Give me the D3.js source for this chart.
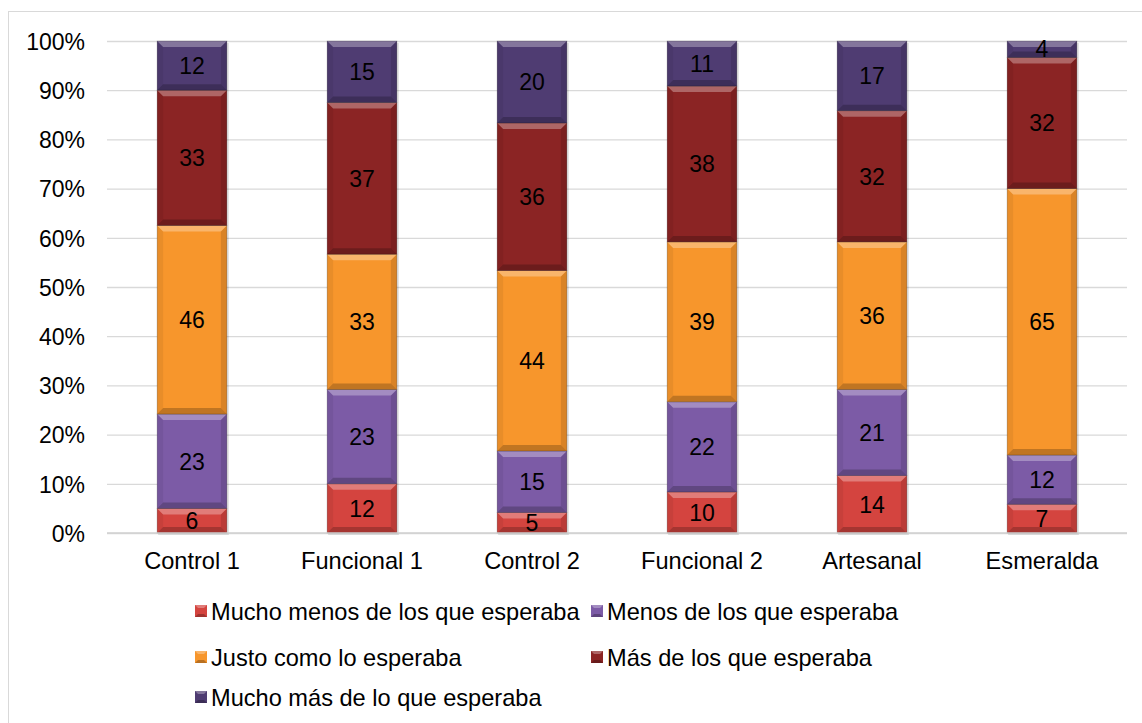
<!DOCTYPE html>
<html>
<head>
<meta charset="utf-8">
<script src="https://cdn.jsdelivr.net/npm/d3@7"></script>
<style>
  body { margin: 0; background: #fff; }
  text { font-family: "Liberation Sans", Arial, sans-serif; fill: #000; }
</style>
</head>
<body>
<div id="drawingArea"></div>
<script>
// data
var categories = ["Control 1", "Funcional 1", "Control 2", "Funcional 2", "Artesanal", "Esmeralda"];
var seriesNames = ["Mucho menos de los que esperaba", "Menos de los que esperaba",
                   "Justo como lo esperaba", "Más de los que esperaba", "Mucho más de lo que esperaba"];
var muchoMenos = [6, 12, 5, 10, 14, 7];
var menos      = [23, 23, 15, 22, 21, 12];
var justo      = [46, 33, 44, 39, 36, 65];
var mas        = [33, 37, 36, 38, 32, 32];
var muchoMas   = [12, 15, 20, 11, 17, 4];
var yTicks = [0, 0.1, 0.2, 0.3, 0.4, 0.5, 0.6, 0.7, 0.8, 0.9, 1];
var colors = ["#d4443f", "#7c5ba6", "#f7962c", "#8b2424", "#4f3c72"];

var seriesValues = [muchoMenos, menos, justo, mas, muchoMas];
var rows = categories.map(function(c, i) {
    var r = {cat: c};
    seriesNames.forEach(function(s, j) { r[s] = seriesValues[j][i]; });
    return r;
});

var W = 1142, H = 723;
var fs = "23px", fsBig = "23.6px";
var margin = {top: 41, left: 107};
var width = 1127 - margin.left, height = 533 - margin.top;

var svg = d3.select("#drawingArea").append("svg")
    .attr("width", W).attr("height", H);

// chart border
svg.append("rect")
    .attr("x", 8.5).attr("y", 11.5).attr("width", 1140).attr("height", 720)
    .attr("fill", "none").attr("stroke", "#d9d9d9").attr("stroke-width", 1);

var g = svg.append("g").attr("transform", "translate(" + margin.left + "," + margin.top + ")");

var x = d3.scaleBand().domain(categories).range([0, width]).paddingInner(0.59).paddingOuter(0.295);
var y = d3.scaleLinear().domain([0, 1]).range([height, 0]);

// gridlines
g.append("g")
    .call(d3.axisLeft(y).tickValues(yTicks).tickSize(-width).tickFormat(""))
    .call(function(a) {
        a.select(".domain").remove();
        a.selectAll("line").attr("stroke", "#d9d9d9").attr("stroke-width", 1.3);
    });

// y labels
g.append("g")
    .call(d3.axisLeft(y).tickValues(yTicks).tickSize(0).tickPadding(22).tickFormat(d3.format(".0%")))
    .call(function(a) {
        a.select(".domain").remove();
        a.selectAll("text").style("font-size", fs).attr("dy", "0.36em");
    });

var stack = d3.stack().keys(seriesNames).offset(d3.stackOffsetExpand);
var layers = stack(rows);

var bw = x.bandwidth();
var bev = 6;

function bevel(sel, w, h) {
    var b = Math.min(bev, h / 2, w / 2);
    sel.append("polygon")
        .attr("points", [[0,0],[w,0],[w-b,b],[b,b]].join(" "))
        .attr("fill", "#fff").attr("fill-opacity", 0.3);
    sel.append("polygon")
        .attr("points", [[0,h],[w,h],[w-b,h-b],[b,h-b]].join(" "))
        .attr("fill", "#000").attr("fill-opacity", 0.22);
    sel.append("polygon")
        .attr("points", [[0,0],[b,b],[b,h-b],[0,h]].join(" "))
        .attr("fill", "#000").attr("fill-opacity", 0.06);
    sel.append("polygon")
        .attr("points", [[w,0],[w-b,b],[w-b,h-b],[w,h]].join(" "))
        .attr("fill", "#000").attr("fill-opacity", 0.12);
}

// shadows under bars
g.selectAll(".shadow").data(categories).enter().append("rect")
    .attr("x", function(d) { return x(d) + 1; })
    .attr("y", y(1) + 2)
    .attr("width", bw + 1).attr("height", height - y(1))
    .attr("fill", "#000").attr("fill-opacity", 0.12);

layers.forEach(function(layer, j) {
    var cell = g.selectAll(".s" + j).data(layer).enter().append("g")
        .attr("transform", function(d) { return "translate(" + x(d.data.cat) + "," + y(d[1]) + ")"; });
    cell.append("rect")
        .attr("width", bw)
        .attr("height", function(d) { return y(d[0]) - y(d[1]); })
        .attr("fill", colors[j]);
    cell.each(function(d) { bevel(d3.select(this), bw, y(d[0]) - y(d[1])); });
    cell.append("rect")
        .attr("width", bw)
        .attr("height", function(d) { return y(d[0]) - y(d[1]); })
        .attr("fill", "none").attr("stroke", "#000").attr("stroke-opacity", 0.25).attr("stroke-width", 0.8);
    cell.append("text")
        .attr("x", bw / 2)
        .attr("y", function(d) { return (y(d[0]) - y(d[1])) / 2; })
        .attr("dy", "0.36em")
        .attr("text-anchor", "middle")
        .style("font-size", fs)
        .text(function(d) { return d.data[layer.key]; });
});

// x axis
g.append("line")
    .attr("x1", 0).attr("x2", width).attr("y1", height).attr("y2", height)
    .attr("stroke", "#d0d0d0").attr("stroke-width", 1.3);
g.append("g")
    .attr("transform", "translate(0," + height + ")")
    .call(d3.axisBottom(x).tickSize(0).tickPadding(19))
    .call(function(a) {
        a.select(".domain").remove();
        a.selectAll("text").style("font-size", fsBig);
    });

// legend
var legendPos = [[195, 611], [591, 611], [195, 657], [591, 657], [195, 697]];
seriesNames.forEach(function(s, j) {
    var lg = svg.append("g").attr("transform", "translate(" + legendPos[j][0] + "," + (legendPos[j][1] - 6) + ")");
    lg.append("rect").attr("width", 12).attr("height", 12).attr("fill", colors[j]);
    var b = 3;
    lg.append("polygon").attr("points", [[0,0],[12,0],[12-b,b],[b,b]].join(" ")).attr("fill", "#fff").attr("fill-opacity", 0.3);
    lg.append("polygon").attr("points", [[0,12],[12,12],[12-b,12-b],[b,12-b]].join(" ")).attr("fill", "#000").attr("fill-opacity", 0.25);
    lg.append("text")
        .attr("x", 16).attr("y", 6).attr("dy", "0.36em")
        .style("font-size", fsBig)
        .text(s);
});
</script>
</body>
</html>
